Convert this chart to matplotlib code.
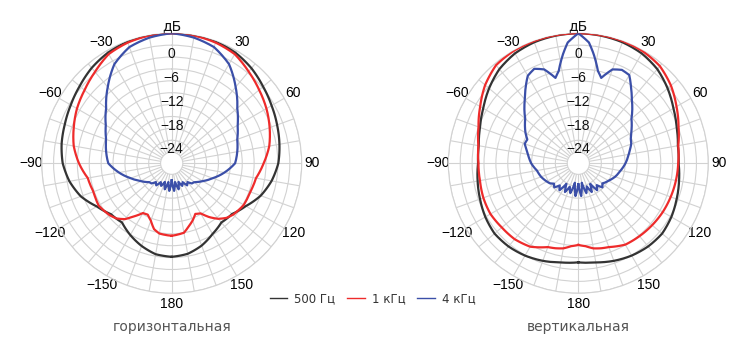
import numpy as np
import matplotlib
matplotlib.use("Agg")
import matplotlib.pyplot as plt
from matplotlib.lines import Line2D

# horizontal plane (left)
h_ang_500 = [-180, -170, -160, -150, -140, -130, -120, -110, -100, -90, -80, -70, -60, -50, -40, -30, -20, -10,
             0, 10, 20, 30, 40, 50, 60, 70, 80, 90, 100, 110, 120, 130, 140, 150, 160, 170, 180]
h_db_500 = [-9.2, -9.5, -10.6, -11.9, -13.3, -12.8, -11.0, -8.4, -6.6, -5.3, -4.6, -4.1, -3.4, -2.5, -1.4, -0.6, -0.2, 0.0,
            0.0, 0.0, -0.2, -0.6, -1.5, -2.7, -3.7, -4.5, -5.2, -5.9, -7.2, -8.9, -11.2, -12.9, -13.3, -12.2, -10.7, -9.6, -9.2]

h_ang_1k = [-180, -170, -165, -160, -155, -150, -145, -140, -135, -130, -120, -110, -100, -90, -80, -70, -60, -50, -40,
            -30, -20, -10, 0, 10, 20, 30, 40, 50, 60, 70, 80, 90, 100, 110, 120, 130, 135, 140, 145, 150, 155, 160,
            165, 170, 180]
h_db_1k = [-14.5, -14.8, -15.6, -17.4, -18.5, -18.3, -16.5, -14.4, -13.1, -12.4, -11.5, -11.8, -11.3, -9.4, -7.7,
           -6.5, -5.2, -4.1, -2.7, -1.0, -0.4, -0.1, 0.0, -0.1, -0.4, -1.0, -2.6, -4.0, -5.2, -6.5, -7.8, -9.6, -11.2,
           -11.7, -11.8, -12.6, -13.3, -14.5, -16.2, -18.2, -18.7, -17.4, -16.3, -15.0, -14.5]

h_ang_4k = [-180, -175, -170, -165, -160, -155, -150, -145, -140, -135, -130, -125, -120, -110, -100, -90, -80, -70,
            -60, -50, -40, -30, -20, -10, 0, 10, 20, 30, 40, 50, 60, 70, 80, 90, 100, 110, 120, 125, 130, 135, 140,
            145, 150, 155, 160, 165, 170, 175, 180]
h_db_4k = [-28.5, -25.8, -28.0, -26.0, -27.8, -26.5, -27.3, -26.0, -26.6, -25.6, -25.4, -24.6, -23.8, -21.8, -19.3,
           -16.8, -16.0, -15.2, -13.6, -11.2, -7.7, -3.9, -1.6, -0.6, 0.0, -0.6, -1.6, -3.9, -7.7, -11.2, -13.6, -15.2,
           -16.0, -16.8, -19.3, -21.8, -23.8, -24.6, -25.4, -25.6, -26.6, -26.0, -27.3, -26.5, -27.8, -26.0, -28.0,
           -25.8, -28.5]

# vertical plane (right)
v_ang_500 = [-180, -170, -160, -150, -140, -130, -120, -110, -100, -90, -80, -70, -60, -50, -40, -30, -20, -10,
             0, 10, 20, 30, 40, 50, 60, 70, 80, 90, 100, 110, 120, 130, 140, 150, 160, 170, 180]
v_db_500 = [-7.8, -7.4, -6.6, -5.9, -5.4, -5.2, -5.7, -6.4, -7.0, -7.5, -7.3, -6.4, -5.1, -3.4, -1.8, -0.8, -0.3, -0.1,
            0.0, -0.1, -0.3, -0.8, -1.8, -3.4, -5.1, -6.4, -7.3, -7.5, -7.0, -6.4, -5.7, -5.2, -5.4, -5.9, -6.6, -7.4, -7.8]

v_ang_1k = [-180, -175, -170, -165, -160, -150, -140, -130, -120, -110, -100, -90, -80, -70, -60, -50, -40, -30, -20,
            -10, 0, 10, 20, 30, 40, 50, 60, 70, 80, 90, 100, 110, 120, 130, 140, 150, 160, 165, 170, 175, 180]
v_db_1k = [-12.2, -11.8, -11.0, -10.6, -10.3, -8.5, -7.8, -7.6, -7.2, -7.3, -7.6, -7.6, -7.2, -6.0, -4.2, -2.1, -0.5,
           -0.1, 0.0, 0.0, 0.0, 0.0, 0.0, -0.2, -0.8, -2.3, -4.2, -5.9, -7.2, -7.6, -7.8, -8.0, -8.2, -8.5, -8.8,
           -9.1, -10.3, -10.6, -11.0, -11.8, -12.2]

v_ang_4k = [-180, -175, -170, -165, -160, -155, -150, -145, -140, -135, -130, -125, -120, -110, -100, -90, -80, -75,
            -70, -65, -60, -50, -40, -35, -30, -25, -20, -15, -12, -8, -5, 0, 5, 8, 12, 15, 20, 25, 30, 35, 40, 50,
            60, 65, 70, 75, 80, 90, 100, 110, 120, 125, 130, 135, 140, 145, 150, 155, 160, 165, 170, 175, 180]
v_db_4k = [-27.5, -24.5, -27.8, -25.0, -26.5, -24.8, -26.8, -24.5, -25.5, -24.2, -24.8, -24.0, -23.6, -22.8, -22.2,
           -20.9, -19.9, -19.2, -18.4, -18.6, -17.4, -15.3, -11.8, -9.6, -7.3, -6.5, -7.6, -10.5, -9.0, -5.0, -2.2,
           0.0, -2.2, -5.0, -9.0, -10.5, -7.6, -6.8, -7.1, -9.6, -11.8, -15.3, -17.4, -18.2, -18.6, -19.3, -19.9,
           -20.9, -22.0, -22.9, -24.0, -24.4, -24.9, -24.2, -25.6, -24.5, -26.8, -24.8, -26.6, -25.0, -27.8, -24.5,
           -27.5]

series_labels = ["500 Гц", "1 кГц", "4 кГц"]
series_colors = ["#333333", "#ee2b2b", "#3b4fa8"]
captions = ["горизонтальная", "вертикальная"]
r_ticks = [0, -6, -12, -18, -24]
grid_col = "#d2d2d2"


def setup(ax):
    ax.set_theta_zero_location("N")
    ax.set_theta_direction(-1)
    ax.set_ylim(-30, 0)
    ax.set_rorigin(-32.8)
    ax.set_rticks(np.arange(-27, 1, 3))
    ax.set_yticklabels([])
    angs = np.arange(0, 360, 10)
    labels = []
    for a in angs:
        s = a if a <= 180 else a - 360
        if a % 30 == 0 and a != 0:
            labels.append(str(s).replace("-", "\u2212"))
        else:
            labels.append("")
    ax.set_thetagrids(angs, labels, fontsize=10, family="Liberation Sans")
    ax.tick_params(axis="x", pad=-3)
    ax.grid(True, color=grid_col, lw=0.8)
    for sp in ax.spines.values():
        sp.set_color(grid_col)
        sp.set_linewidth(0.8)
    for v in r_ticks:
        ax.text(0, v - 5.3, str(v).replace("-", "\u2212"), ha="center", va="center",
                fontsize=10, family="Liberation Sans", color="#111111", zorder=5)
    ax.text(0, 1.7, "дБ", ha="center", va="center", fontsize=10, family="DejaVu Sans",
            color="#111111", clip_on=False)


fig = plt.figure(figsize=(7.38, 3.43), dpi=100)
ax1 = fig.add_axes([0.0565, 0.145, 0.3523, 0.758], projection="polar")
ax2 = fig.add_axes([0.6075, 0.145, 0.3523, 0.758], projection="polar")

for ax, data in [(ax1, [(h_ang_500, h_db_500), (h_ang_1k, h_db_1k), (h_ang_4k, h_db_4k)]),
                 (ax2, [(v_ang_500, v_db_500), (v_ang_1k, v_db_1k), (v_ang_4k, v_db_4k)])]:
    setup(ax)
    for (ang, db), col in zip(data, series_colors):
        ln, = ax.plot(np.deg2rad(ang), db, color=col, lw=1.6, zorder=3)
        ln.get_path()._interpolation_steps = 12  # draw segments as polar arcs

handles = [Line2D([], [], color=c, lw=1.0) for c in series_colors]
leg = fig.legend(handles, series_labels, loc="center", bbox_to_anchor=(0.505, 1 - 299 / 343), ncol=3,
                 frameon=False, fontsize=8.5, handlelength=1.5, columnspacing=1.0, handletextpad=0.6)
for t in leg.get_texts():
    t.set_color("#333333")

fig.text(171.7 / 738, 1 - 327 / 343, captions[0], ha="center", va="center", fontsize=10, color="#555555")
fig.text(578.3 / 738, 1 - 327 / 343, captions[1], ha="center", va="center", fontsize=10, color="#555555")

fig.savefig("out.png", dpi=100)
